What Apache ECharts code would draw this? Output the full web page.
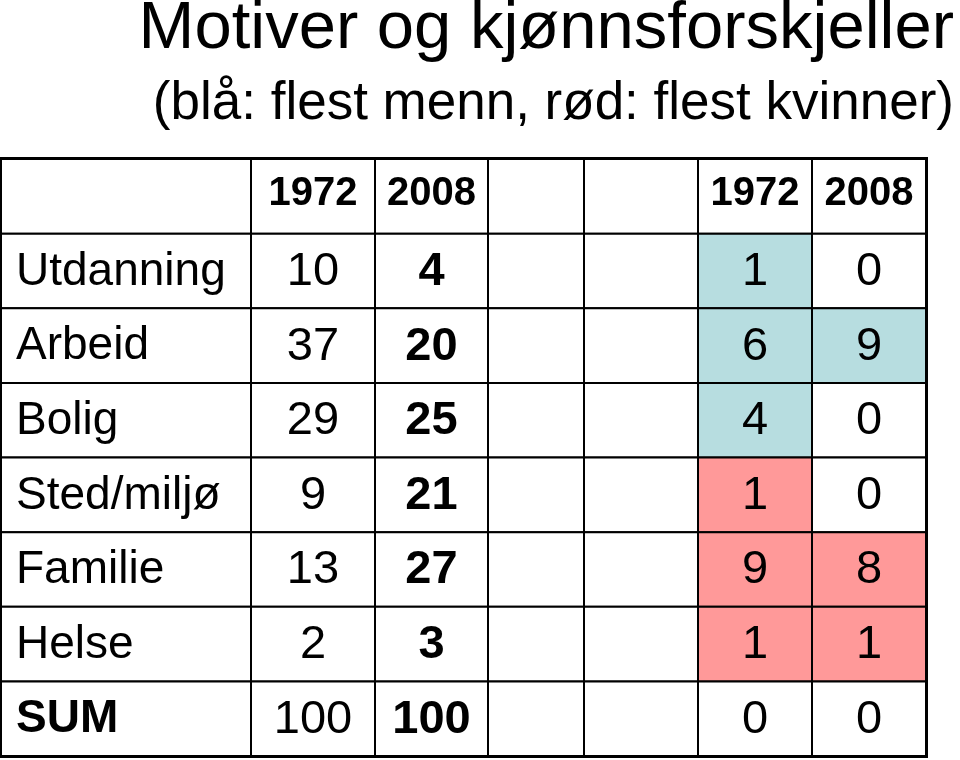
<!DOCTYPE html>
<html>
<head>
<meta charset="utf-8">
<script src="https://cdn.jsdelivr.net/npm/echarts@6/dist/echarts.min.js"></script>
<style>
  html, body { margin: 0; padding: 0; background: #fff; }
  #chart { width: 960px; height: 760px; }
</style>
</head>
<body>
<div id="chart"></div>
<script>
// table content
const categories = ['Utdanning', 'Arbeid', 'Bolig', 'Sted/miljø', 'Familie', 'Helse', 'SUM']
const years = ['1972', '2008']
const share1972 = [10, 37, 29, 9, 13, 2, 100]
const share2008 = [4, 20, 25, 21, 27, 3, 100]
const diff1972 = [1, 6, 4, 1, 9, 1, 0]
const diff2008 = [0, 9, 0, 0, 8, 1, 0]
// who is in the majority: 'm' = men (blue), 'k' = women (red), '' = none
const lead1972 = ['m', 'm', 'm', 'k', 'k', 'k', '']
const lead2008 = ['', 'm', '', '', 'k', 'k', '']

// layout of the grid (column edges in px inside the grid)
const colEdges = [0, 250, 374, 487, 583, 697, 811, 925]
const FONT = '"Liberation Sans", Arial, sans-serif'
const fills = { m: '#B7DDE0', k: '#FF9999', '': '#ffffff' }

// build cells: [col, row, text, kind, fill]
const cells = []
const rowCount = categories.length + 1
cells.push([0, 0, '', 'head', ''])
cells.push([1, 0, years[0], 'head', ''])
cells.push([2, 0, years[1], 'head', ''])
cells.push([3, 0, '', 'head', ''])
cells.push([4, 0, '', 'head', ''])
cells.push([5, 0, years[0], 'head', ''])
cells.push([6, 0, years[1], 'head', ''])
categories.forEach((c, i) => {
  const r = i + 1
  const isSum = c === 'SUM'
  cells.push([0, r, c, isSum ? 'labelBold' : 'label', ''])
  cells.push([1, r, String(share1972[i]), 'num', ''])
  cells.push([2, r, String(share2008[i]), 'numBold', ''])
  cells.push([3, r, '', 'num', ''])
  cells.push([4, r, '', 'num', ''])
  cells.push([5, r, String(diff1972[i]), 'num', lead1972[i]])
  cells.push([6, r, String(diff2008[i]), 'num', lead2008[i]])
})

const rows = Array.from({ length: rowCount }, (_, i) => 'r' + i)

function renderCell(params, api) {
  const col = api.value(0)
  const row = api.value(1)
  const item = cells[params.dataIndex]
  const text = item[2]
  const kind = item[3]
  const fill = fills[item[4]]
  const p0 = api.coord([colEdges[col], rows[row]])
  const p1 = api.coord([colEdges[col + 1], rows[row]])
  const h = api.size([0, 1])[1]
  const x0 = p0[0], x1 = p1[0], yc = p0[1]

  let font = '47px ' + FONT
  let align = 'center'
  let tx = (x0 + x1) / 2
  let ty = yc + 1
  if (kind === 'head') { font = 'bold 40px ' + FONT; ty = yc - 2 }
  if (kind === 'numBold') font = 'bold 47px ' + FONT
  if (kind === 'label' || kind === 'labelBold') {
    align = 'left'
    tx = x0 + 15
    if (kind === 'labelBold') font = 'bold 46px ' + FONT
    else font = '46px ' + FONT
  }
  return {
    type: 'group',
    children: [
      {
        type: 'rect',
        shape: { x: x0, y: yc - h / 2, width: x1 - x0, height: h },
        style: { fill: fill, stroke: '#000', lineWidth: 2 }
      },
      {
        type: 'text',
        style: {
          text: text, x: tx, y: ty, align: align, verticalAlign: 'middle',
          font: font, fill: '#000'
        }
      }
    ]
  }
}

const chart = echarts.init(document.getElementById('chart'), null, { renderer: 'canvas' })
chart.setOption({
  animation: false,
  backgroundColor: '#fff',
  title: [
    {
      text: 'Motiver og kjønnsforskjeller',
      right: 6, top: -4, padding: 0,
      textStyle: { fontSize: 67, fontWeight: 'normal', fontFamily: FONT, color: '#000' }
    },
    {
      text: '(blå: flest menn, rød: flest kvinner)',
      right: 6, top: 78, padding: 0,
      textStyle: { fontSize: 53, fontWeight: 'normal', fontFamily: FONT, color: '#000' }
    }
  ],
  grid: {
    left: 1, top: 159, width: 925, height: 597,
    show: true, borderColor: '#000', borderWidth: 4, backgroundColor: '#fff'
  },
  xAxis: { type: 'value', min: 0, max: 925, show: false },
  yAxis: { type: 'category', data: rows, inverse: true, show: false },
  series: [{
    type: 'custom',
    renderItem: renderCell,
    data: cells.map(c => [c[0], c[1]]),
    encode: { x: 0, y: 1 },
    silent: true
  }]
})
</script>
</body>
</html>
